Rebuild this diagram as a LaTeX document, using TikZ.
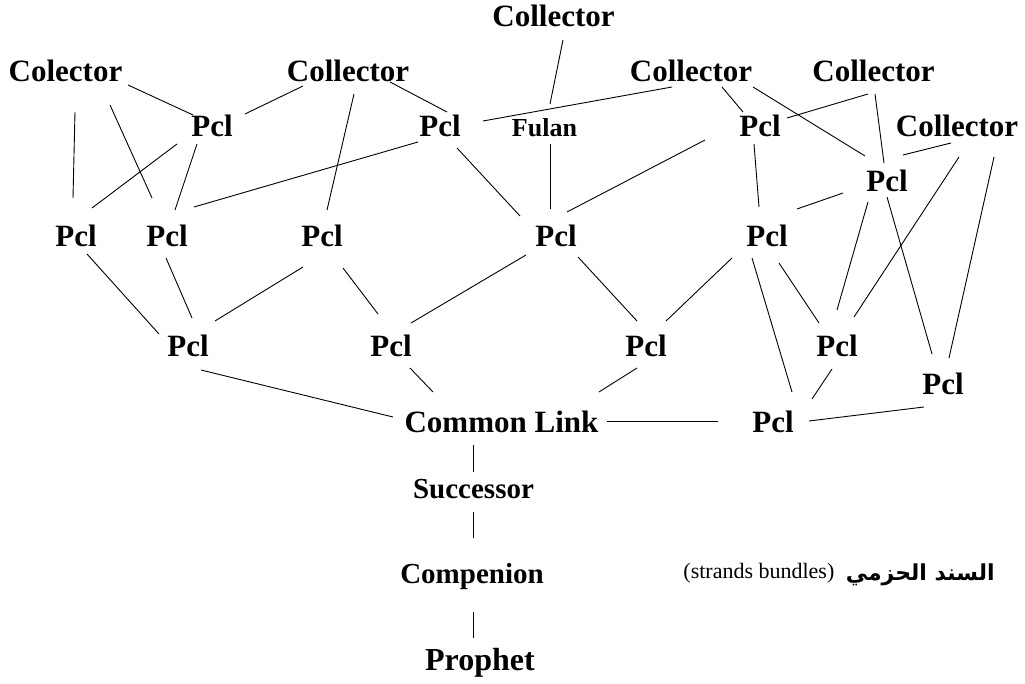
\documentclass[tikz,border=0pt]{standalone}
\usepackage{fontspec}
\setmainfont{Liberation Serif}
\newfontfamily\arabicfont[Script=Arabic]{DejaVu Sans}
\TeXXeTstate=1
% a connector between two named nodes, each end given as an offset from the node centre
\newcommand\link[4]{\draw ([shift={(#2)}]#1.center) -- ([shift={(#4)}]#3.center);}
\newcommand\labelsize[1]{\bfseries\fontsize{#1}{#1}\selectfont}
\begin{document}
\begin{tikzpicture}[x=1pt,y=-1pt,line width=0.9pt,
  lbl/.style={inner sep=0pt, text height=21pt, text depth=0pt,
              execute at begin node={\labelsize{31}}},
  lblsm/.style={inner sep=0pt, text height=21pt, text depth=0pt,
              execute at begin node={\labelsize{29}}},
  lblfulan/.style={inner sep=0pt, text height=17.6pt, text depth=0pt,
              execute at begin node={\labelsize{26}}}]
\useasboundingbox (0,0) rectangle (1025,684);

% collectors
\node[lbl] (c1) at (65.5,71.5) {Colector};
\node[lbl] (c2) at (348,71.5) {Collector};
\node[lbl] (c3) at (553.5,16.5) {Collector};
\node[lbl] (c4) at (691,71.5) {Collector};
\node[lbl] (c5) at (873.5,71.5) {Collector};
\node[lbl] (c6) at (957,126.5) {Collector};

% partial common links, upper tier
\node[lbl] (pa) at (212,126.5) {Pcl};
\node[lbl] (pb) at (440,126.5) {Pcl};
\node[lblfulan] (fulan) at (544.5,128.2) {Fulan};
\node[lbl] (pc) at (760,126.5) {Pcl};
\node[lbl] (pd) at (887,181.5) {Pcl};

% middle tier
\node[lbl] (pe) at (76,236.5) {Pcl};
\node[lbl] (pf) at (167,236.5) {Pcl};
\node[lbl] (pg) at (322,236.5) {Pcl};
\node[lbl] (ph) at (556,236.5) {Pcl};
\node[lbl] (pi) at (767,236.5) {Pcl};

% lower tier
\node[lbl] (pj) at (188,346.5) {Pcl};
\node[lbl] (pk) at (391,346.5) {Pcl};
\node[lbl] (pl) at (646,346.5) {Pcl};
\node[lbl] (pm) at (837,346.5) {Pcl};
\node[lbl] (pn) at (943,383.5) {Pcl};

% common link and the single strand below it
\node[lbl] (cl) at (501.5,421.5) {Common Link};
\node[lbl] (po) at (773,421.5) {Pcl};
\node[lblsm] (succ) at (473.5,487.5) {Successor};
\node[lblsm] (comp) at (472,572.5) {Compenion};
\node[lbl] (pro) at (480,659.5) {\fontsize{32}{32}\selectfont Prophet};

% caption
\node[anchor=base west, inner sep=0pt] (en) at (683,578) {\fontsize{22}{22}\selectfont (strands bundles)};
\node[anchor=base east, inner sep=0pt] (ar) at (995,580) {\arabicfont\bfseries\fontsize{22}{22}\selectfont\beginR السند الحزمي\endR};

% collectors to the upper tier
\link{c1}{62.5,13.5}{pa}{-19,-11.5}
\link{c1}{9.5,40.5}{pe}{-3,-38.5}
\link{c1}{44.5,33.5}{pf}{-15,-38.5}
\link{c2}{-45,14.5}{pa}{33,-12.5}
\link{c2}{6,22.5}{pg}{5,-26.5}
\link{c2}{42,10.5}{pb}{7,-14.5}
\link{c3}{9.5,23.5}{fulan}{5.5,-24.2}
\link{c4}{-19,15.5}{pb}{43,-5.5}
\link{c4}{31,15.5}{pc}{-17,-14.5}
\link{c4}{62,15.5}{pd}{-22,-25.5}
\link{c5}{-5.5,22.5}{pc}{27,-8.5}
\link{c5}{1.5,22.5}{pd}{-3,-18.5}
\link{c6}{-6,16.5}{pd}{16,-26.5}
\link{c6}{2,30.5}{pm}{17,-29.5}
\link{c6}{37,30.5}{pn}{6,-25.5}

% upper tier to middle tier
\link{pa}{-35,17.5}{pe}{16,-28.5}
\link{pa}{-15,17.5}{pf}{8,-26.5}
\link{pb}{-22,15.5}{pf}{27,-29.5}
\link{pb}{17,21.5}{ph}{-36,-20.5}
\link{fulan}{5.5,15.8}{ph}{-6,-27.5}
\link{pc}{-55,13.5}{ph}{11,-24.5}
\link{pc}{-6,17.5}{pi}{-8,-29.5}
\link{pd}{-44,11.5}{pi}{30,-27.5}
\link{pd}{-19,20.5}{pm}{0,-36.5}
\link{pd}{0,15.5}{pn}{-11,-29.5}

% middle tier to lower tier
\link{pe}{11,17.5}{pj}{-29,-12.5}
\link{pf}{-1,21.5}{pj}{4,-28.5}
\link{pg}{-19,30.5}{pj}{27,-25.5}
\link{pg}{21,31.5}{pk}{-13,-32.5}
\link{ph}{-30,18.5}{pk}{20,-23.5}
\link{ph}{22,20.5}{pl}{-9,-25.5}
\link{pi}{-35,21.5}{pl}{20,-25.5}
\link{pi}{-15,21.5}{po}{19,-29.5}
\link{pi}{12,26.5}{pm}{-18,-23.5}

% into the common link
\link{pj}{13,23.5}{cl}{-108.5,-4.5}
\link{pk}{19,21.5}{cl}{-68.5,-29.5}
\link{pl}{-9,21.5}{cl}{97.5,-29.5}
\link{pm}{-5,22.5}{po}{39,-22.5}
\link{pn}{-19,23.5}{po}{36,-0.5}
\link{cl}{105.5,-0.5}{po}{-55,-0.5}

% single strand down to the source
\link{cl}{-28.5,23.5}{succ}{-0.5,-15.5}
\link{succ}{-0.5,24.5}{comp}{1,-34.5}
\link{comp}{1,39.5}{pro}{-7,-21.5}
\end{tikzpicture}
\end{document}
